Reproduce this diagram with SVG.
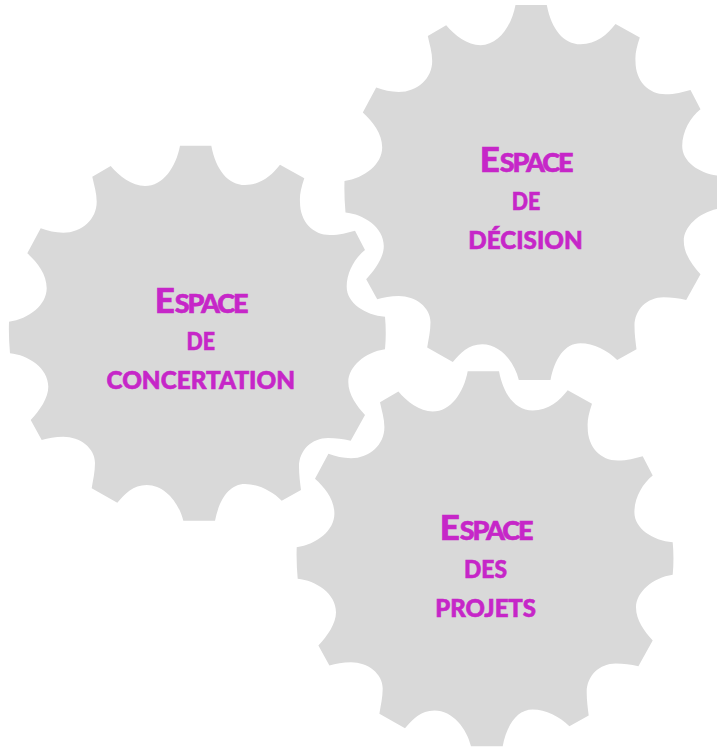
<svg xmlns="http://www.w3.org/2000/svg" width="717" height="750" viewBox="0 0 717 750">
<style>
.gear{fill:#d9d9d9}
text{font-family:"Lato","Liberation Sans",sans-serif;font-weight:900;fill:#c626c8;stroke:#c626c8;stroke-width:.6px;font-size:24.5px}
.cap{font-size:35px}
.sm{font-size:27px;letter-spacing:-2.1px}
</style>
<defs>
<path id="gearShape" d="M180,145.7 L211.3,145.7 C216,170 228,185 245,185 C261,185 272,175 280,164.7 L304.3,178.3 C301,188 299.5,195 300,202 C300,222 313,235 330,235 C340,235 347,232.7 355,230.7 L365,250 C355,258 346.7,272 346.7,286.7 C346.7,303 365,315 385,316.7 Q386.5,333 385,349.3 C365,352 348.3,367 348.3,381.7 C348.3,395 357,406 365,415 L350.7,440.7 C343,439 336,438 328,438 C312,438 299,450 299,466.7 C299,475 300,482 301,490 L281.7,500.7 C272,491 258,484 245,484 C229,484 219,500 215,520.7 L183.3,520.7 C179,503 165,485 146.7,485 C133,485 125,494 117.3,502.7 L91.7,488.3 C93,480 95,472 95,463 C95,448 80,436.7 63.3,436.7 C55,436.7 48,438 41.7,440 L30.7,420 C40,410 48.3,398 48.3,386.7 C48.3,368 28,355 10,353.3 Q8.5,337 9,321.7 C29,319 46.7,305 46.7,288.3 C46.7,274 37,262 27.3,253.3 L40.7,228.3 C48,231 55,232.7 63.3,232.7 C82,232.7 96.7,219 96.7,201.7 C96.7,193 94,185 92.3,176.7 L110.7,166 C119,176 132,186 145,186 C163,186 176,167 180,145.7 Z"/>
</defs>
<rect width="717" height="750" fill="#ffffff"/>
<g id="gear-concertation">
<use href="#gearShape" class="gear"/>
<text x="154.7" y="312.7"><tspan class="cap">E</tspan><tspan class="sm">SPACE</tspan></text>
<text x="186.5" y="350" textLength="28.5" lengthAdjust="spacingAndGlyphs">DE</text>
<text x="106.5" y="389" textLength="188.5" lengthAdjust="spacingAndGlyphs">CONCERTATION</text>
</g>
<g id="gear-decision">
<use href="#gearShape" class="gear" x="335.5" y="-140.8"/>
<text x="479.7" y="171.7"><tspan class="cap">E</tspan><tspan class="sm">SPACE</tspan></text>
<text x="511.7" y="210" textLength="28.5" lengthAdjust="spacingAndGlyphs">DE</text>
<text x="468.3" y="249" textLength="114.4" lengthAdjust="spacingAndGlyphs">DÉCISION</text>
</g>
<g id="gear-projets">
<use href="#gearShape" class="gear" x="287.7" y="225.5"/>
<text x="439.7" y="540"><tspan class="cap">E</tspan><tspan class="sm">SPACE</tspan></text>
<text x="464" y="577.7" textLength="43" lengthAdjust="spacingAndGlyphs">DES</text>
<text x="435.3" y="616.7" textLength="100.7" lengthAdjust="spacingAndGlyphs">PROJETS</text>
</g>
</svg>
